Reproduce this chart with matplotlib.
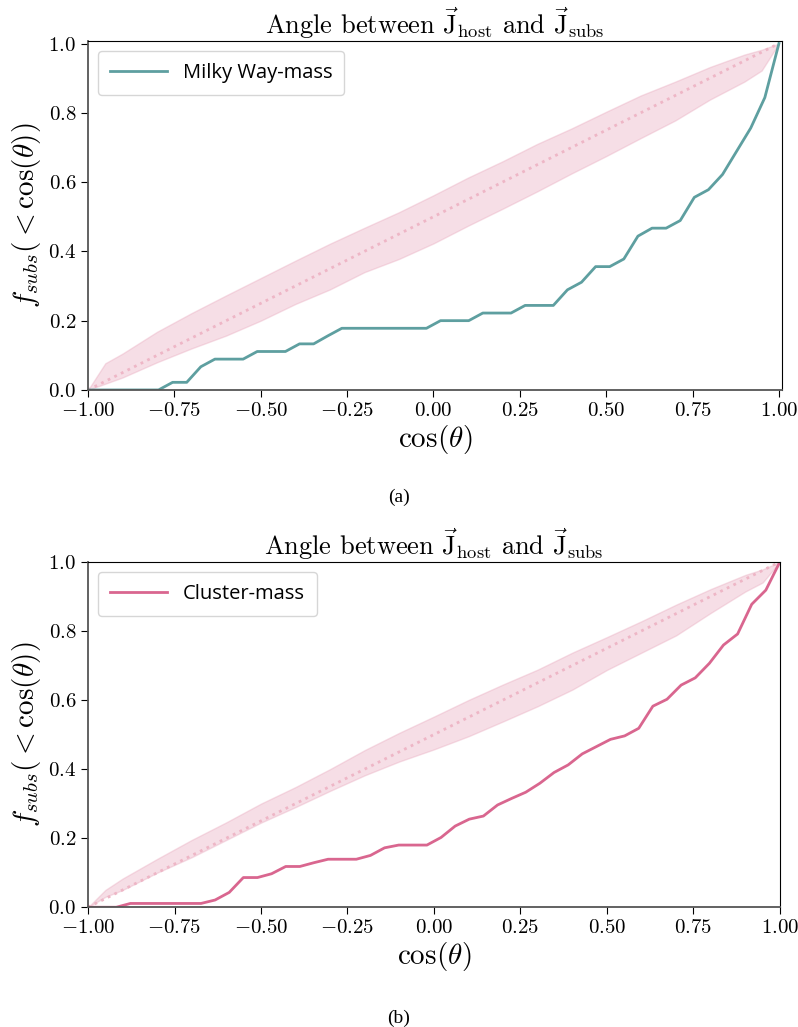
import numpy as np
import matplotlib
matplotlib.use("Agg")
from matplotlib import pyplot as plt

plt.rcParams['font.family'] = 'serif'
plt.rcParams['font.serif'] = ['cmr10']
plt.rcParams['mathtext.fontset'] = 'cm'
plt.rcParams['axes.formatter.use_mathtext'] = True
plt.rcParams['axes.unicode_minus'] = True

# cumulative fraction of subhaloes, read on a 50-point cos(theta) grid
cos_theta = np.linspace(-1, 1, 50)
f_mw = [0, 0, 0, 0, 0, 0, 0.022, 0.022, 0.067, 0.089,
        0.089, 0.089, 0.111, 0.111, 0.111, 0.133, 0.133, 0.156, 0.178, 0.178,
        0.178, 0.178, 0.178, 0.178, 0.178, 0.2, 0.2, 0.2, 0.222, 0.222,
        0.222, 0.244, 0.244, 0.244, 0.289, 0.311, 0.356, 0.356, 0.378, 0.444,
        0.467, 0.467, 0.489, 0.556, 0.578, 0.622, 0.689, 0.756, 0.844, 1.0]
f_cl = [0, 0, 0, 0.011, 0.011, 0.011, 0.011, 0.011, 0.011, 0.021,
        0.043, 0.086, 0.086, 0.097, 0.118, 0.118, 0.129, 0.139, 0.139, 0.139,
        0.15, 0.172, 0.18, 0.18, 0.18, 0.202, 0.235, 0.255, 0.264, 0.296,
        0.315, 0.333, 0.359, 0.39, 0.412, 0.444, 0.465, 0.486, 0.496, 0.518,
        0.582, 0.602, 0.643, 0.664, 0.706, 0.759, 0.791, 0.877, 0.918, 1.0]

# isotropic expectation band
band_x = [-1.0, -0.95, -0.9, -0.8, -0.7, -0.6, -0.5, -0.4, -0.3, -0.2, -0.1, 0.0,
          0.1, 0.2, 0.3, 0.4, 0.5, 0.6, 0.7, 0.8, 0.9, 0.95, 1.0]
mw_hi = [0, 0.077, 0.105, 0.168, 0.222, 0.273, 0.323, 0.373, 0.422, 0.468, 0.513, 0.562,
         0.613, 0.66, 0.71, 0.755, 0.803, 0.85, 0.89, 0.932, 0.968, 0.982, 1.0]
mw_lo = [0, 0.018, 0.036, 0.08, 0.12, 0.157, 0.2, 0.248, 0.29, 0.34, 0.378, 0.423,
         0.474, 0.523, 0.573, 0.625, 0.675, 0.727, 0.778, 0.838, 0.89, 0.922, 1.0]
cl_hi = [0, 0.05, 0.083, 0.14, 0.195, 0.246, 0.3, 0.348, 0.4, 0.455, 0.505, 0.552,
         0.6, 0.645, 0.688, 0.737, 0.782, 0.828, 0.876, 0.921, 0.962, 0.978, 1.0]
cl_lo = [0, 0.03, 0.05, 0.1, 0.145, 0.195, 0.245, 0.29, 0.337, 0.382, 0.422, 0.457,
         0.495, 0.538, 0.582, 0.63, 0.687, 0.737, 0.787, 0.852, 0.914, 0.94, 1.0]
diag_x = [-1.0, 1.0]
diag_y = [0.0, 1.0]

title = r'Angle between $\vec{\mathrm{J}}_{\mathrm{host}}$ and $\vec{\mathrm{J}}_{\mathrm{subs}}$'

fig = plt.figure(figsize=(7.98, 10.27), dpi=100)
ax1 = fig.add_axes([0.1103, 0.6203, 0.8697, 0.3397])
ax2 = fig.add_axes([0.1103, 0.1166, 0.8671, 0.3364])

panels = [(ax1, f_mw, mw_lo, mw_hi, '#5e9fa0', 'Milky Way-mass', 1.009, 1.007),
          (ax2, f_cl, cl_lo, cl_hi, '#d9668f', 'Cluster-mass', 1.0, 1.0)]

for ax, f, lo, hi, col, lab, xr, yt in panels:
    ax.fill_between(band_x, lo, hi, color='#e7a3b9', alpha=0.35, lw=1)
    ax.plot(diag_x, diag_y, ls=':', color='#eeb6c6', lw=2)
    ax.plot(cos_theta, f, color=col, lw=2, label=lab)
    ax.set_xlim(-1, xr)
    ax.set_ylim(0, yt)
    ax.set_xticks([-1, -0.75, -0.5, -0.25, 0, 0.25, 0.5, 0.75, 1.0])
    ax.set_yticks([0, 0.2, 0.4, 0.6, 0.8, 1.0])
    ax.tick_params(labelsize=15, length=5)
    ax.set_xlabel(r'$\cos(\theta)$', fontsize=21, labelpad=2)
    ax.set_ylabel(r'$f_{subs}(<\cos(\theta))$', fontsize=21, labelpad=4)
    ax.set_title(title, fontsize=19, pad=4)
    for s in ['left', 'bottom']:
        ax.spines[s].set_color('#555555')
        ax.spines[s].set_linewidth(1.3)
    leg = ax.legend(loc='upper left', prop={'family': 'Open Sans', 'size': 14.5},
                    handlelength=2.8, borderpad=0.6, fancybox=True)
    leg.get_frame().set_edgecolor('#cccccc')

fig.text(0.5, 1 - 497 / 1027, '(a)', ha='center', va='center',
         family='Liberation Serif', fontsize=14)
fig.text(0.5, 1 - 1018 / 1027, '(b)', ha='center', va='center',
         family='Liberation Serif', fontsize=14)

fig.savefig('out.png', dpi=100)
